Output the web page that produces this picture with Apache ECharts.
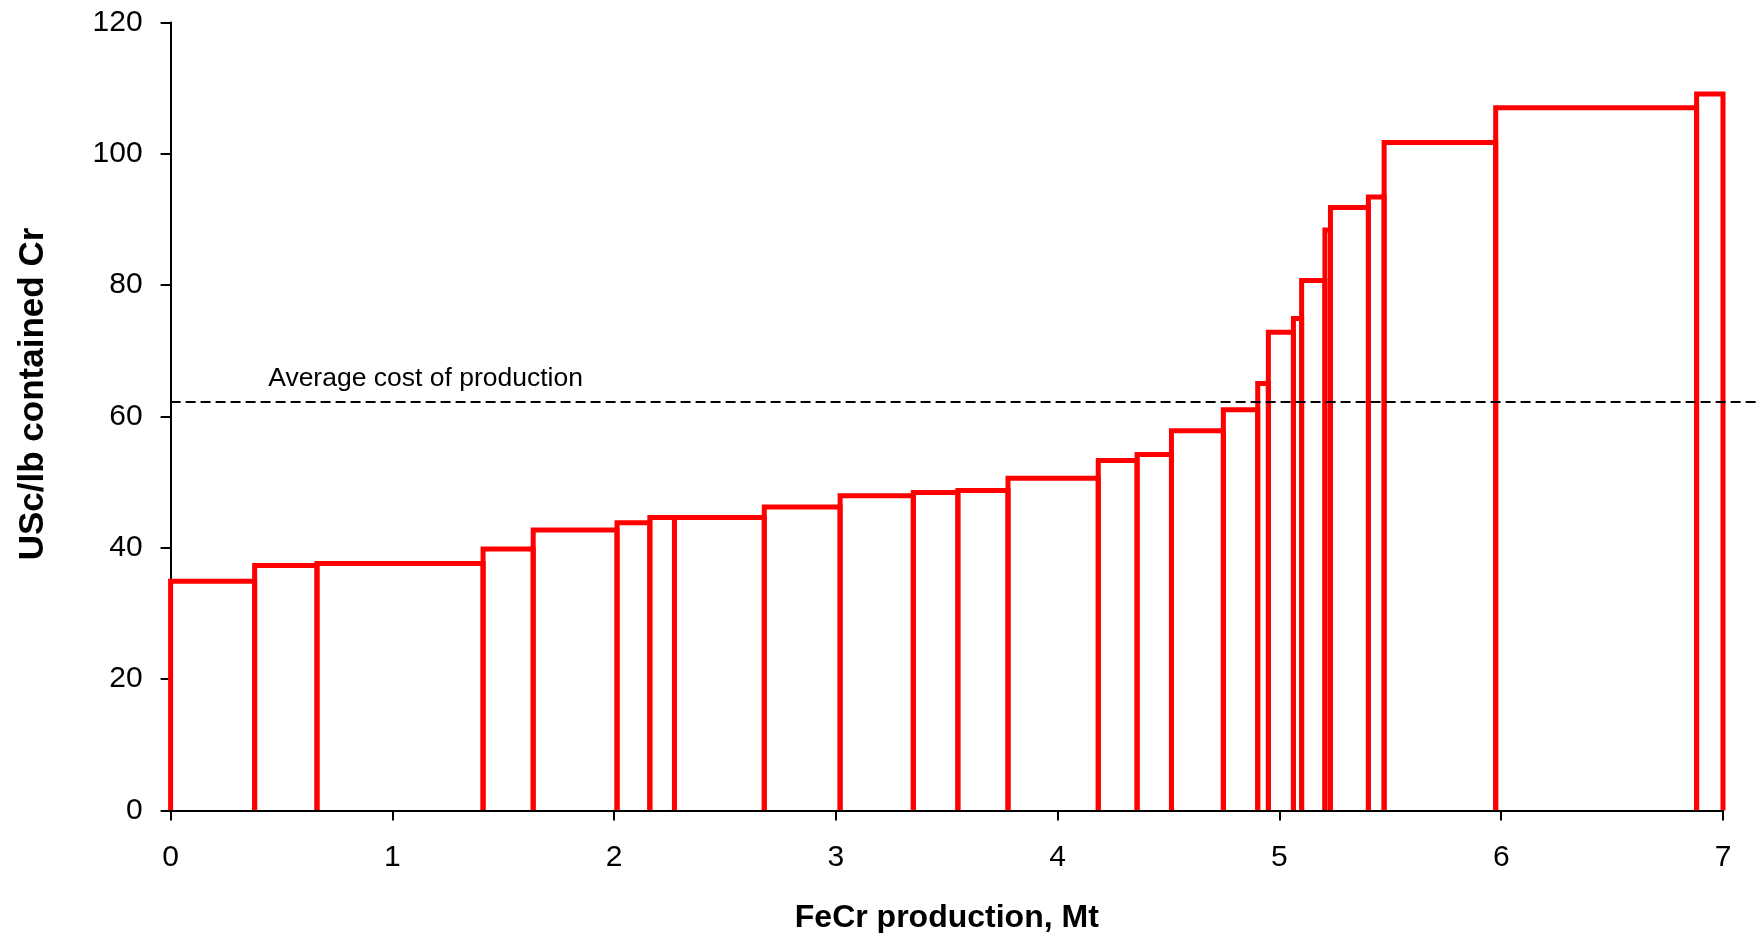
<!DOCTYPE html>
<html>
<head>
<meta charset="utf-8">
<script src="https://cdn.jsdelivr.net/npm/echarts@6/dist/echarts.min.js"></script>
<style>
  html, body { margin: 0; padding: 0; background: #fff; }
  #chart { width: 1760px; height: 933px; }
</style>
</head>
<body>
<div id="chart"></div>
<script>
// Production capacity of each ferrochrome producer, Mt (ordered by cost)
const capacityMt = [
  0.379, 0.281, 0.749, 0.226, 0.378, 0.148, 0.111, 0.405, 0.342, 0.330,
  0.201, 0.226, 0.407, 0.175, 0.155, 0.234, 0.155, 0.048, 0.113, 0.037,
  0.105, 0.025, 0.171, 0.071, 0.503, 0.906, 0.119
];
// Cost of each producer, USc/lb contained Cr
const costUScLb = [
  34.9, 37.3, 37.6, 39.8, 42.7, 43.8, 44.6, 44.6, 46.2, 47.9,
  48.4, 48.7, 50.6, 53.3, 54.2, 57.8, 61.0, 65.0, 72.8, 74.9,
  80.7, 88.4, 91.8, 93.4, 101.7, 107.0, 109.1
];
const averageCost = 62.2;
const averageLabel = 'Average cost of production';
const averageLabelAtMt = 0.44;

const xTitle = 'FeCr production, Mt';
const yTitle = 'USc/lb contained Cr';

// Cumulative supply curve: [start, end, cost]
const blocks = [];
let cumulative = 0;
capacityMt.forEach((w, i) => {
  blocks.push([cumulative, cumulative + w, costUScLb[i]]);
  cumulative += w;
});

const FONT = "'Liberation Sans', Arial, Helvetica, sans-serif";
const chart = echarts.init(document.getElementById('chart'));

chart.setOption({
  animation: false,
  backgroundColor: '#ffffff',
  grid: { left: 170.6, right: 37, top: 22.4, bottom: 122.6, containLabel: false, outerBoundsMode: 'none' },
  xAxis: {
    type: 'value', min: 0, max: 7, interval: 1, z: 3,
    name: xTitle, nameLocation: 'middle', nameGap: 92,
    nameTextStyle: { fontFamily: FONT, fontWeight: 'bold', fontSize: 32, color: '#000' },
    axisLine: { show: true, lineStyle: { color: '#000', width: 2 } },
    axisTick: { show: true, length: 10, lineStyle: { color: '#000', width: 2 } },
    axisLabel: { margin: 32, fontSize: 30, color: '#000', fontFamily: FONT },
    splitLine: { show: false }
  },
  yAxis: {
    type: 'value', min: 0, max: 120, interval: 20,
    axisLine: { show: true, lineStyle: { color: '#000', width: 2 } },
    axisTick: { show: true, length: 10, lineStyle: { color: '#000', width: 2 } },
    axisLabel: { margin: 28, fontSize: 30, color: '#000', fontFamily: FONT },
    splitLine: { show: false }
  },
  graphic: [{
    type: 'text', x: 33, y: 394, rotation: Math.PI / 2,
    style: {
      text: yTitle, font: 'bold 35px ' + FONT, fill: '#000',
      textAlign: 'center', textVerticalAlign: 'middle'
    }
  }],
  series: [
    {
      type: 'custom',
      name: 'Producers',
      clip: false,
      encode: { x: [0, 1], y: 2 },
      data: blocks,
      renderItem: function (params, api) {
        const x0 = api.value(0), x1 = api.value(1), v = api.value(2);
        const a = api.coord([x0, 0]);
        const b = api.coord([x0, v]);
        const c = api.coord([x1, v]);
        const d = api.coord([x1, 0]);
        return {
          type: 'polyline',
          shape: { points: [a, b, c, d] },
          style: { stroke: '#ff0000', lineWidth: 5, fill: null, lineJoin: 'miter', lineCap: 'butt' }
        };
      }
    },
    {
      type: 'custom',
      name: 'Average',
      clip: false,
      z: 4,
      encode: { x: 0, y: 1 },
      data: [[0, averageCost]],
      renderItem: function (params, api) {
        const p = api.coord([api.value(0), api.value(1)]);
        const t = api.coord([averageLabelAtMt, api.value(1)]);
        return {
          type: 'group',
          children: [
            {
              type: 'line',
              shape: { x1: p[0], y1: p[1], x2: api.getWidth(), y2: p[1] },
              style: { stroke: '#000', lineWidth: 2, lineDash: [10, 5] }
            },
            {
              type: 'text',
              style: {
                x: t[0], y: t[1] - 23, text: averageLabel,
                font: '26.5px ' + FONT, fill: '#000',
                textAlign: 'left', textVerticalAlign: 'middle'
              }
            }
          ]
        };
      }
    }
  ]
});
</script>
</body>
</html>
